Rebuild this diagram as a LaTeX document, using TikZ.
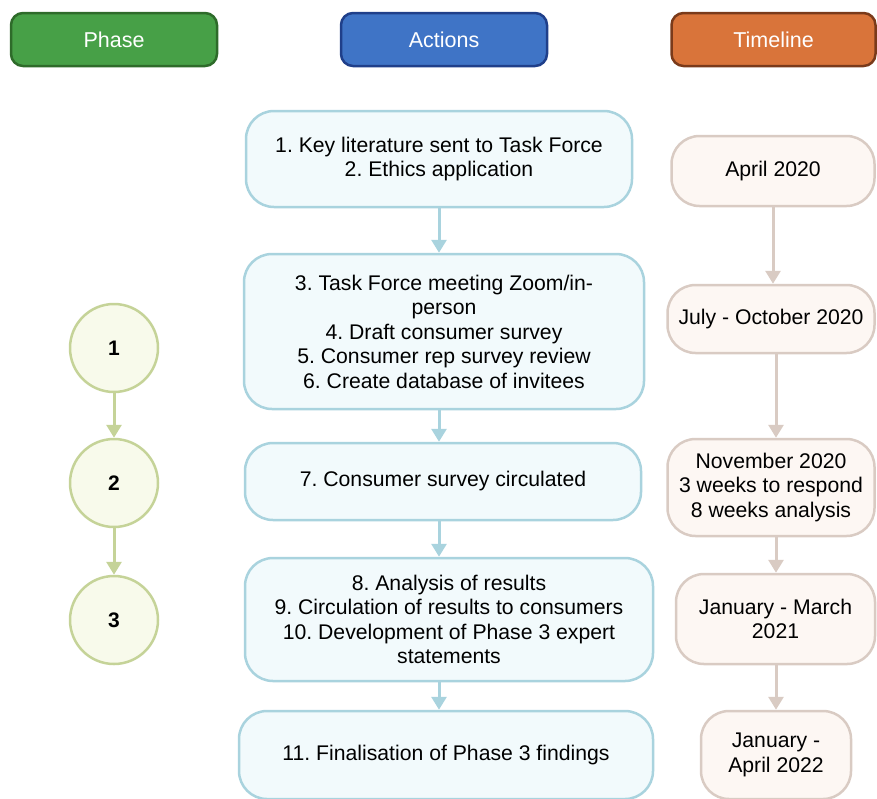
\documentclass[tikz,border=0pt]{standalone}
\usepackage{fontspec}
\setmainfont{Liberation Sans}
\frenchspacing
\usetikzlibrary{arrows.meta}
\definecolor{phasefill}{HTML}{47A047}
\definecolor{phaseline}{HTML}{2E6B2A}
\definecolor{actfill}{HTML}{3F74C6}
\definecolor{actline}{HTML}{1F3F8A}
\definecolor{timefill}{HTML}{D9743A}
\definecolor{timeline}{HTML}{7A3A1A}
\definecolor{circfill}{HTML}{F8FAEB}
\definecolor{circline}{HTML}{C5D398}
\definecolor{stepfill}{HTML}{F2FAFC}
\definecolor{stepline}{HTML}{A9D3DE}
\definecolor{datefill}{HTML}{FDF7F3}
\definecolor{dateline}{HTML}{D9CBC3}
\tikzset{
  header/.style={draw, line width=2.5pt, rounded corners=12pt, minimum width=206pt,
    minimum height=53pt, text=white, font=\fontsize{21.5}{24}\selectfont},
  phasecirc/.style={circle, draw=circline, fill=circfill, line width=2.5pt,
    minimum size=88pt, font=\fontsize{21}{24}\selectfont\bfseries},
  actbox/.style={draw=stepline, fill=stepfill, line width=2.5pt, rounded corners=28pt,
    align=center, font=\fontsize{21.2}{24.5}\selectfont},
  datebox/.style={draw=dateline, fill=datefill, line width=2.5pt, rounded corners=28pt,
    align=center, font=\fontsize{21.2}{24.5}\selectfont},
  link/.style={->, line width=3pt},
}
\begin{document}
\begin{tikzpicture}[line cap=round,line join=round,x=1pt,y=-1pt,
    >={Triangle[width=15pt,length=13pt]}]
\useasboundingbox (0,0) rectangle (877,798);
\clip (0,0) rectangle (877,798);
% headers
\node[header, draw=phaseline, fill=phasefill] (phase) at (114,39.5) {Phase};
\node[header, draw=actline, fill=actfill] (actions) at (444,39.5) {Actions};
\node[header, draw=timeline, fill=timefill, minimum width=204pt] (timeline) at (773.5,39.5) {Timeline};
% phases
\node[phasecirc] (p1) at (114,348) {1};
\node[phasecirc] (p2) at (114,483) {2};
\node[phasecirc] (p3) at (114,620) {3};
\draw[link, circline] (p1) -- (p2);
\draw[link, circline] (p2) -- (p3);
% actions
\node[actbox, minimum width=386pt, minimum height=96pt] (a1) at (439,159)
  {1. Key literature sent to Task Force\\2. Ethics application};
\node[actbox, minimum width=400pt, minimum height=155pt] (a2) at (444,331.5)
  {3. Task Force meeting Zoom/in-\\person\\4. Draft consumer survey\\5. Consumer rep survey review\\6. Create database of invitees};
\node[actbox, minimum width=396pt, minimum height=77pt] (a3) at (443,481.5)
  {7. Consumer survey circulated};
\node[actbox, minimum width=408pt, minimum height=123pt] (a4) at (449,619.5)
  {8. Analysis of results\\9. Circulation of results to consumers\\10. Development of Phase 3 expert\\statements};
\node[actbox, minimum width=414pt, minimum height=88pt] (a5) at (446,755)
  {11. Finalisation of Phase 3 findings};
\draw[link, stepline] (a1.south) -- (a1.south |- a2.north);
\draw[link, stepline] (a1.south |- a2.south) -- (a1.south |- a3.north);
\draw[link, stepline] (a1.south |- a3.south) -- (a1.south |- a4.north);
\draw[link, stepline] (a1.south |- a4.south) -- (a1.south |- a5.north);
% timeline
\node[datebox, minimum width=203pt, minimum height=70pt] (t1) at (773,171) {April 2020};
\node[datebox, minimum width=207pt, minimum height=68pt] (t2) at (771,319) {July - October 2020};
\node[datebox, minimum width=207pt, minimum height=97pt] (t3) at (771,487.5)
  {November 2020\\3 weeks to respond\\8 weeks analysis};
\node[datebox, minimum width=199pt, minimum height=90pt] (t4) at (775.5,619) {January - March\\2021};
\node[datebox, minimum width=150pt, minimum height=88pt] (t5) at (776,755) {January -\\April 2022};
\draw[link, dateline] (t1.south) -- (t1.south |- t2.north);
\draw[link, dateline] (t5.north |- t2.south) -- (t5.north |- t3.north);
\draw[link, dateline] (t5.north |- t3.south) -- (t5.north |- t4.north);
\draw[link, dateline] (t5.north |- t4.south) -- (t5.north);
\end{tikzpicture}
\end{document}
